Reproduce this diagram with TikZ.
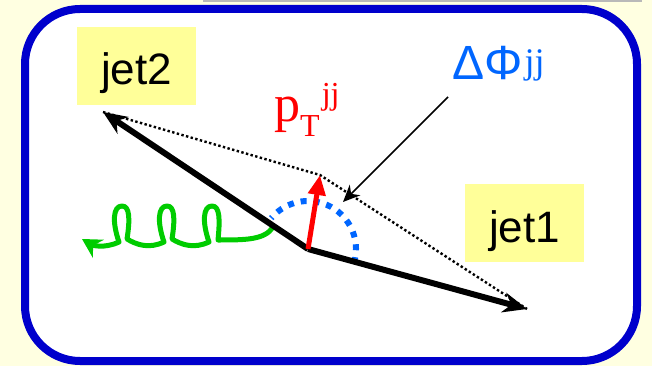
\documentclass[tikz,border=0pt]{standalone}
\usepackage{fontspec}
\setmainfont{Liberation Serif}
\setsansfont{Liberation Sans}
\usepackage{xcolor}
\usepackage{tikz}
\usetikzlibrary{
  arrows.meta,
  positioning
}
\definecolor{pagebg}{RGB}{255,255,225}
\definecolor{framegray}{RGB}{185,185,185}
\definecolor{frameblue}{RGB}{0,0,204}
\definecolor{labelbg}{RGB}{255,255,153}
\definecolor{phiblue}{RGB}{0,102,255}
\definecolor{gluongreen}{RGB}{0,204,0}
\tikzset{
  eventframe/.style={
    draw=frameblue,
    fill=white,
    line width=8pt,
    rounded corners=55pt
  },
  jetbox/.style={
    fill=labelbg,
    anchor=base,
    minimum width=119pt,
    inner xsep=0pt,
    inner ysep=0pt,
    text height=58pt,
    text depth=20pt,
    font=\sffamily\fontsize{44}{44}\selectfont
  },
  jetline/.style={
    -{Stealth[length=24pt,width=20pt]},
    line width=6pt,
    draw=black
  },
  dotline/.style={
    draw=black,
    line width=2.4pt,
    dash pattern=on 2.4pt off 2.4pt
  },
  ptarrow/.style={
    -{Triangle[length=20pt,width=17pt]},
    line width=5pt,
    draw=red
  },
  phiarc/.style={
    draw=phiblue,
    line width=6pt,
    dash pattern=on 6pt off 7pt
  },
  pointer/.style={
    -{Stealth[length=17pt,width=15pt]},
    line width=1.6pt,
    draw=black
  },
  gluon/.style={
    -{Stealth[length=19pt,width=21pt]},
    draw=gluongreen,
    line width=5pt,
    line cap=round,
    line join=round
  },
  ptlabel/.style={
    anchor=base west,
    inner sep=0pt,
    text=red,
    font=\rmfamily\fontsize{52}{52}\selectfont
  },
  philabel/.style={
    anchor=base west,
    inner sep=0pt,
    text=phiblue,
    font=\sffamily\fontsize{48}{48}\selectfont
  }
}

\begin{document}
\begin{tikzpicture}[x=1pt,y=-1pt]
\fill[pagebg] (0,0) rectangle (652,366);
\useasboundingbox (0,0) rectangle (652,366);
\draw[framegray,line width=2pt] (203,1) -- (642,1);
\draw[eventframe] (25,9) rectangle (637,361);

\node[jetbox] (jet2) at (136.5,85) {jet2};
\node[jetbox] (jet1) at (524.5,242) {jet1};

\coordinate (vtx) at (308,249);
\coordinate (jet2tip) at (103,112);
\coordinate (jet1tip) at (527,309);
\coordinate (pttip) at (320,175);
\coordinate (gluonstart) at (273,227);
\coordinate (phistart) at (448,97);
\coordinate (phiend) at (343,202);

\draw[phiarc] ([shift={(-17:48pt)}]vtx) arc[start angle=-17,end angle=140,radius=48pt];

\draw[gluon] (gluonstart) .. controls (265,240) and (245,240) .. (218,240)
  \foreach \cx in {212,167,122} {
    .. controls ({\cx+8},220) and ({\cx+8},206) .. (\cx,206)
    .. controls ({\cx-9},206) and ({\cx-10},222) .. ({\cx-3},242)
    .. controls ({\cx-18},249) and ({\cx-30},245) .. ({\cx-40},239)
  };

\draw[jetline] (vtx) -- (jet2tip);
\draw[jetline] (vtx) -- (jet1tip);
\draw[dotline] (jet2tip) -- (pttip) -- (jet1tip);
\draw[ptarrow] (vtx) -- (pttip);
\draw[pointer] (phistart) -- (phiend);

\node[ptlabel] (ptlab) at (274,122) {p\raisebox{-15pt}{\fontsize{32}{32}\selectfont T}\hspace{2pt}\raisebox{17pt}{\fontsize{32}{32}\selectfont jj}};
\node[philabel] (philab) at (452,80) {ΔΦ\hspace{2pt}\raisebox{6pt}{\rmfamily\fontsize{36}{36}\selectfont jj}};
\end{tikzpicture}
\end{document}
